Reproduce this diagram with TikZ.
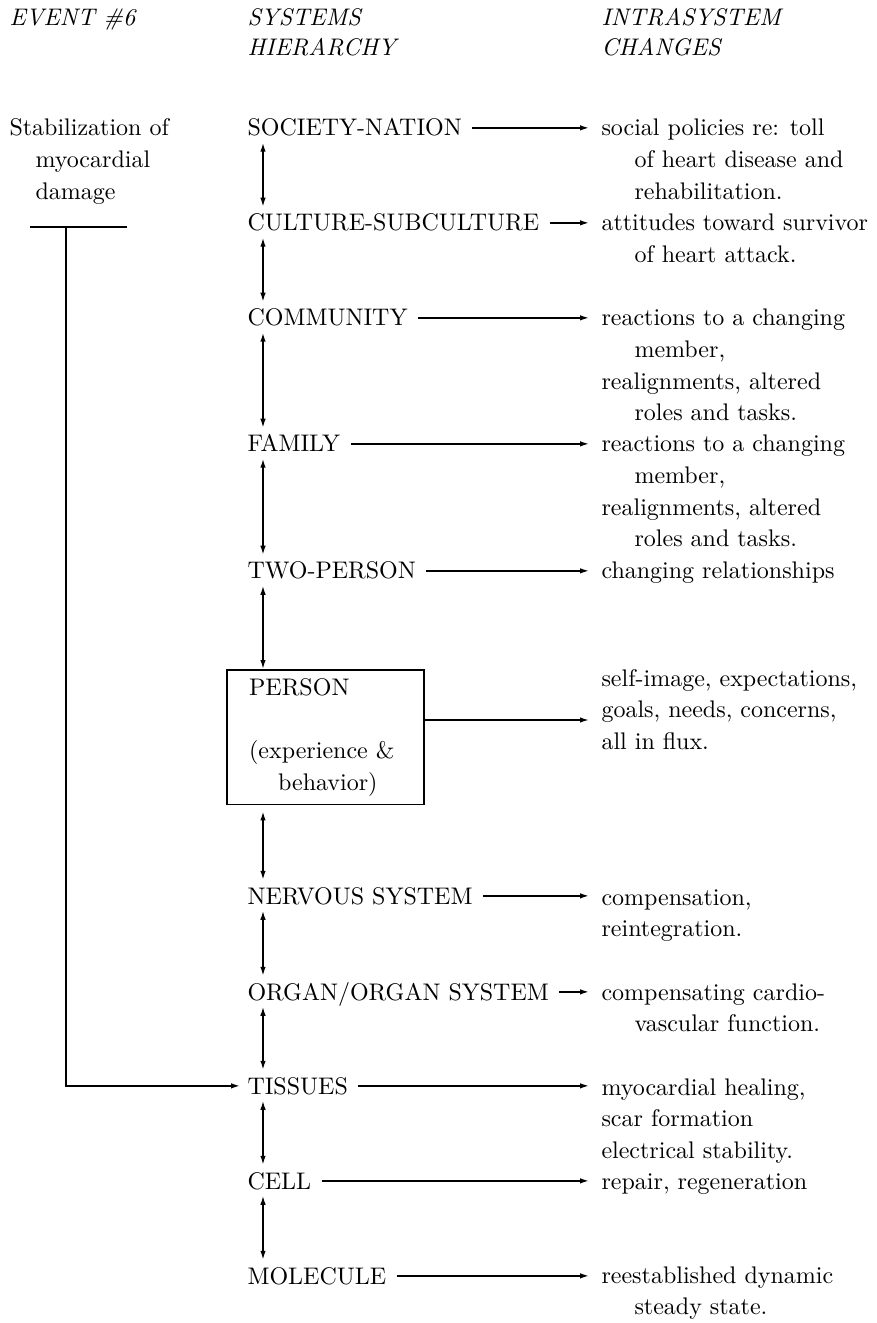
\documentclass[tikz,border=0pt]{standalone}
\usepackage{tikz}
\usetikzlibrary{arrows.meta}
\newcommand\indr{\hspace*{13.2pt}}
\newcommand\indl{\hspace*{10.4pt}}
\newcommand\indp{\hspace*{11.6pt}}
\begin{document}
\begin{tikzpicture}[x=0.4pt,y=-0.4pt,
        every node/.style={inner sep=0pt,font=\fontsize{9.6pt}{12.64pt}\selectfont},
        level/.style={anchor=base west,text height=6.5pt,text depth=0pt},
        change/.style={anchor=base west,align=left},
        head/.style={anchor=base west,align=left,font=\fontsize{9.6pt}{12pt}\selectfont\itshape},
        tip/.style={-{Latex[length=3.6pt,width=2.2pt]},line width=0.6pt},
        both/.style={{Latex[length=3.6pt,width=2.2pt]}-{Latex[length=3.6pt,width=2.2pt]},line width=0.6pt,shorten <=2.5pt,shorten >=3pt}]
            \useasboundingbox (0,0) rectangle (876,1323);

            \node[head] (event) at (9,26) {EVENT \#6};
            \node[head] (sys) at (247,56) {SYSTEMS\\HIERARCHY};
            \node[head] (intra) at (601,56) {INTRASYSTEM\\CHANGES};

            \node[change] (stab) at (9,199.2) {Stabilization of\\\indl myocardial\\\indl damage};
            \coordinate (ruleA) at (30,227);
            \coordinate (ruleB) at (127,227);
            \coordinate (stem) at (66,227);

            \node[level] (soc) at (247,136) {SOCIETY-NATION};
            \node[level] (cult) at (247,231) {CULTURE-SUBCULTURE};
            \node[level] (comm) at (247,326) {COMMUNITY};
            \node[level] (fam) at (247,452) {FAMILY};
            \node[level] (two) at (247,579) {TWO-PERSON};
            \node[draw,line width=0.7pt,anchor=north west,align=left,text width=61pt,
                inner xsep=8.8pt,inner ysep=3.4pt,minimum width=78.8pt,minimum height=53.6pt]
                (person) at (226,669) {PERSON\\[12.64pt](experience \&\\\indp behavior)};
            \node[level] (nerv) at (247,904) {NERVOUS SYSTEM};
            \node[level] (org) at (247,1000) {ORGAN/ORGAN SYSTEM};
            \node[level] (tis) at (247,1094) {TISSUES};
            \node[level] (cell) at (247,1189) {CELL};
            \node[level] (mol) at (247,1284) {MOLECULE};

            % multi-line texts sit on the baseline of their last line
            \node[change] (chgsoc) at (601,199.2) {social policies re: toll\\\indr of heart disease and\\\indr rehabilitation.};
            \node[change] (chgcult) at (601,262.6) {attitudes toward survivor\\\indr of heart attack.};
            \node[change] (chgcomm) at (601,420.8) {reactions to a changing\\\indr member,\\realignments, altered\\\indr roles and tasks.};
            \node[change] (chgfam) at (601,546.8) {reactions to a changing\\\indr member,\\realignments, altered\\\indr roles and tasks.};
            \node[change] (chgtwo) at (601,579) {changing relationships};
            \node[change] (chgpers) at (601,749.2) {self-image, expectations,\\goals, needs, concerns,\\all in flux.};
            \coordinate (persout) at (601,720);
            \node[change] (chgnerv) at (601,936.6) {compensation,\\reintegration.};
            \node[change] (chgorg) at (601,1031.6) {compensating cardio-\\\indr vascular function.};
            \node[change] (chgtis) at (601,1158.2) {myocardial healing,\\scar formation\\electrical stability.};
            \node[change] (chgcell) at (601,1189) {repair, regeneration};
            \node[change] (chgmol) at (601,1314.6) {reestablished dynamic\\\indr steady state.};

            \draw[line width=0.6pt] (ruleA) -- (ruleB);
            \draw[tip,shorten >=2.8pt] (stem) |- (tis.west);

            \foreach \a/\b in {soc/cult,cult/comm,comm/fam,fam/two,nerv/org,org/tis,tis/cell,cell/mol}{
                \draw[both] ([xshift=6.4pt]\a.south west) -- ([xshift=6.4pt]\b.north west);
            }
            \draw[both,shorten >=0pt] ([xshift=6.4pt]two.south west) -- ([xshift=6.4pt]two.south west |- person.north);
            \draw[both,shorten <=2.4pt] ([xshift=6.4pt]nerv.north west |- person.south) -- ([xshift=6.4pt]nerv.north west);

            \foreach \a/\b in {soc/chgsoc,cult/chgcult,comm/chgcomm,fam/chgfam,two/chgtwo,nerv/chgnerv,org/chgorg,tis/chgtis,cell/chgcell,mol/chgmol}{
                \draw[tip,shorten <=4pt,shorten >=4.8pt] (\a.east) -- (\a.east -| \b.west);
            }
            \draw[tip,shorten >=4.8pt] (person.east |- persout) -- (persout);
        \end{tikzpicture}
\end{document}
